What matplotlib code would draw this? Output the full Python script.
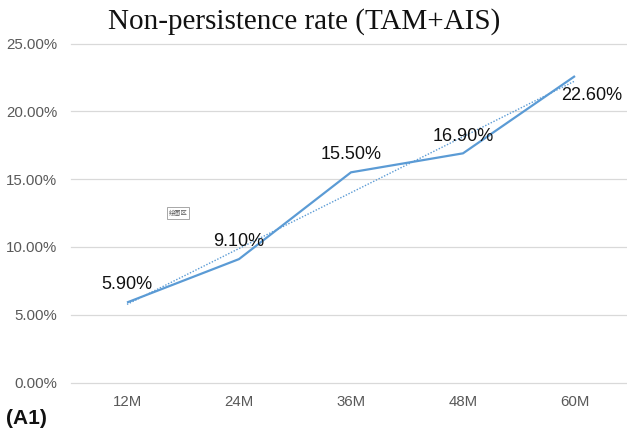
import numpy as np
import matplotlib.pyplot as plt

# data
months = ['12M', '24M', '36M', '48M', '60M']
rate = [5.9, 9.1, 15.5, 16.9, 22.6]
yticks = [0, 5, 10, 15, 20, 25]

W, H = 627, 433
fig = plt.figure(figsize=(W / 100, H / 100), dpi=100)

# plot area in pixels: x 71..631, y 43.5..382.5
left, right, top, bottom = 71, 631, 43.5, 382.5
ax = fig.add_axes([left / W, 1 - bottom / H, (right - left) / W, (bottom - top) / H])

x = np.arange(len(months))
blue = '#5B9BD5'
ax.plot(x, rate, color=blue, lw=1.6, solid_capstyle='butt', zorder=3)

# linear trendline
k, b = np.polyfit(x, rate, 1)
ax.plot(x, k * x + b, color=blue, lw=1.0, ls=(0, (1, 1.2)), zorder=2)

# data labels
offsets = [(0, 13), (0, 13), (0, 13), (0, 12), (12, -14)]
for xi, yi, off in zip(x, rate, offsets):
    ax.annotate(f'{yi:.2f}%', (xi, yi), xytext=off, textcoords='offset points',
                ha='center', va='center', fontsize=13, family='Liberation Sans',
                color='#111111')

ax.set_xlim(-0.5, 4.5)
ax.set_ylim(0, 25)
ax.set_yticks(yticks)
ax.set_yticklabels([f'{v:.2f}%' for v in yticks])
ax.set_xticks(x)
ax.set_xticklabels(months)
for yv in yticks:
    ax.axhline(yv, color='#D9D9D9', lw=0.9, zorder=1, clip_on=False)
for s in ax.spines.values():
    s.set_visible(False)
ax.tick_params(length=0, labelsize=10.8, labelcolor='#595959', pad=9)
for lab in ax.get_xticklabels() + ax.get_yticklabels():
    lab.set_family('Liberation Sans')
ax.tick_params(axis='y', pad=10)

fig.text(304 / W, 1 - 29 / H, 'Non-persistence rate (TAM+AIS)', ha='center', va='baseline',
         fontsize=21, family='Liberation Serif', color='#111111')
fig.text(6 / W, 1 - 418 / H, '(A1)', ha='left', va='center', fontsize=15,
         fontweight='bold', family='Liberation Sans', color='#111111')
fig.text(178 / W, 1 - 213 / H, '绘图区', ha='center', va='center', fontsize=4.5,
         family=['Noto Sans CJK SC', 'DejaVu Sans'], color='#555555',
         bbox=dict(boxstyle='square,pad=0.3', fc='white', ec='#999999', lw=0.6))

fig.savefig('out.png', dpi=100)
